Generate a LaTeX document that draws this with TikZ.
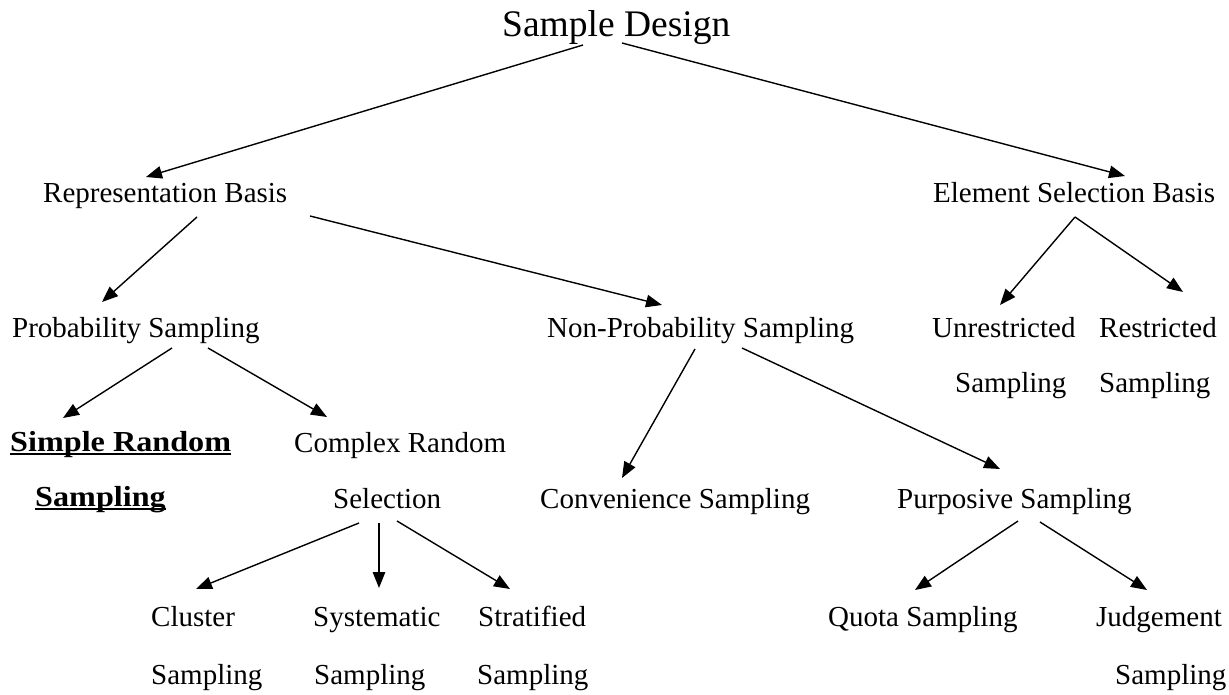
\documentclass[tikz,border=0pt]{standalone}
\usepackage{fontspec}
\setmainfont{Liberation Serif}
\usetikzlibrary{arrows.meta}
\begin{document}
\begin{tikzpicture}[x=1pt,y=-1pt,
  lbl/.style={inner sep=0pt,anchor=base west,font=\fontsize{29}{31}\selectfont},
  bld/.style={lbl,font=\fontsize{29}{31}\selectfont\bfseries},
  ttl/.style={inner sep=0pt,anchor=base west,font=\fontsize{37.5}{40}\selectfont},
  arr/.style={line width=1.4pt,-{Triangle[length=16pt,width=12.5pt]}},
  ul/.style={line width=2.2pt}]
\useasboundingbox[fill=white] (0,0) rectangle (1229,695);
% nodes
\node[ttl] (sd) at (502,37) {Sample Design};
\node[lbl] (rb) at (43,203) {Representation Basis};
\node[lbl] (eb) at (933,203) {Element Selection Basis};
\node[lbl] (ps) at (12,337) {Probability Sampling};
\node[lbl] (nps) at (547,337) {Non-Probability Sampling};
\node[lbl] (ur1) at (932,337) {Unrestricted};
\node[lbl] (ur2) at (955,392) {Sampling};
\node[lbl] (rs1) at (1099,337) {Restricted};
\node[lbl] (rs2) at (1099,392) {Sampling};
\node[bld] (sr1) at (10,451) {\scalebox{1.11}[1]{Simple Random}};
\node[bld] (sr2) at (35,506) {\scalebox{1.11}[1]{Sampling}};
\node[lbl] (cr1) at (294,452) {Complex Random};
\node[lbl] (cr2) at (333,508) {Selection};
\node[lbl] (cs) at (540,508) {Convenience Sampling};
\node[lbl] (pu) at (897,508) {Purposive Sampling};
\node[lbl] (cl1) at (151,626) {Cluster};
\node[lbl] (cl2) at (151,684) {Sampling};
\node[lbl] (sy1) at (313,626) {Systematic};
\node[lbl] (sy2) at (314,684) {Sampling};
\node[lbl] (st1) at (478,626) {Stratified};
\node[lbl] (st2) at (477,684) {Sampling};
\node[lbl] (qs) at (828,626) {Quota Sampling};
\node[lbl] (jd1) at (1096,626) {Judgement};
\node[lbl] (jd2) at (1115,684) {Sampling};
% underlines
\draw[ul] ([yshift=-3pt]sr1.base west) -- ([yshift=-3pt]sr1.base east);
\draw[ul] ([yshift=-3pt]sr2.base west) -- ([yshift=-3pt]sr2.base east);
% connectors
\draw[arr] ([shift={(81,8)}]sd.base west) -- ([shift={(103,-26)}]rb.base west);
\draw[arr] ([shift={(120,6)}]sd.base west) -- ([shift={(192,-27)}]eb.base west);
\draw[arr] ([shift={(154,14)}]rb.base west) -- ([shift={(90,-35)}]ps.base west);
\draw[arr] ([shift={(267,13)}]rb.base west) -- ([shift={(115,-32)}]nps.base west);
\draw[arr] ([shift={(142,14)}]eb.base west) -- ([shift={(68,-32)}]ur1.base west);
\draw[arr] ([shift={(142,14)}]eb.base west) -- ([shift={(84,-45)}]rs1.base west);
\draw[arr] ([shift={(160,11)}]ps.base west) -- ([shift={(53,-33)}]sr1.base west);
\draw[arr] ([shift={(196,11)}]ps.base west) -- ([shift={(33,-35)}]cr1.base west);
\draw[arr] ([shift={(148,12)}]nps.base west) -- ([shift={(82,-30)}]cs.base west);
\draw[arr] ([shift={(195,11)}]nps.base west) -- ([shift={(103,-39)}]pu.base west);
\draw[arr] ([shift={(26,15)}]cr2.base west) -- ([shift={(45,-37)}]cl1.base west);
\draw[arr] ([shift={(46,15)}]cr2.base west) -- ([shift={(66,-38)}]sy1.base west);
\draw[arr] ([shift={(64,13)}]cr2.base west) -- ([shift={(32,-37)}]st1.base west);
\draw[arr] ([shift={(121,13)}]pu.base west) -- ([shift={(87,-36)}]qs.base west);
\draw[arr] ([shift={(143,14)}]pu.base west) -- ([shift={(51,-36)}]jd1.base west);
\end{tikzpicture}
\end{document}
